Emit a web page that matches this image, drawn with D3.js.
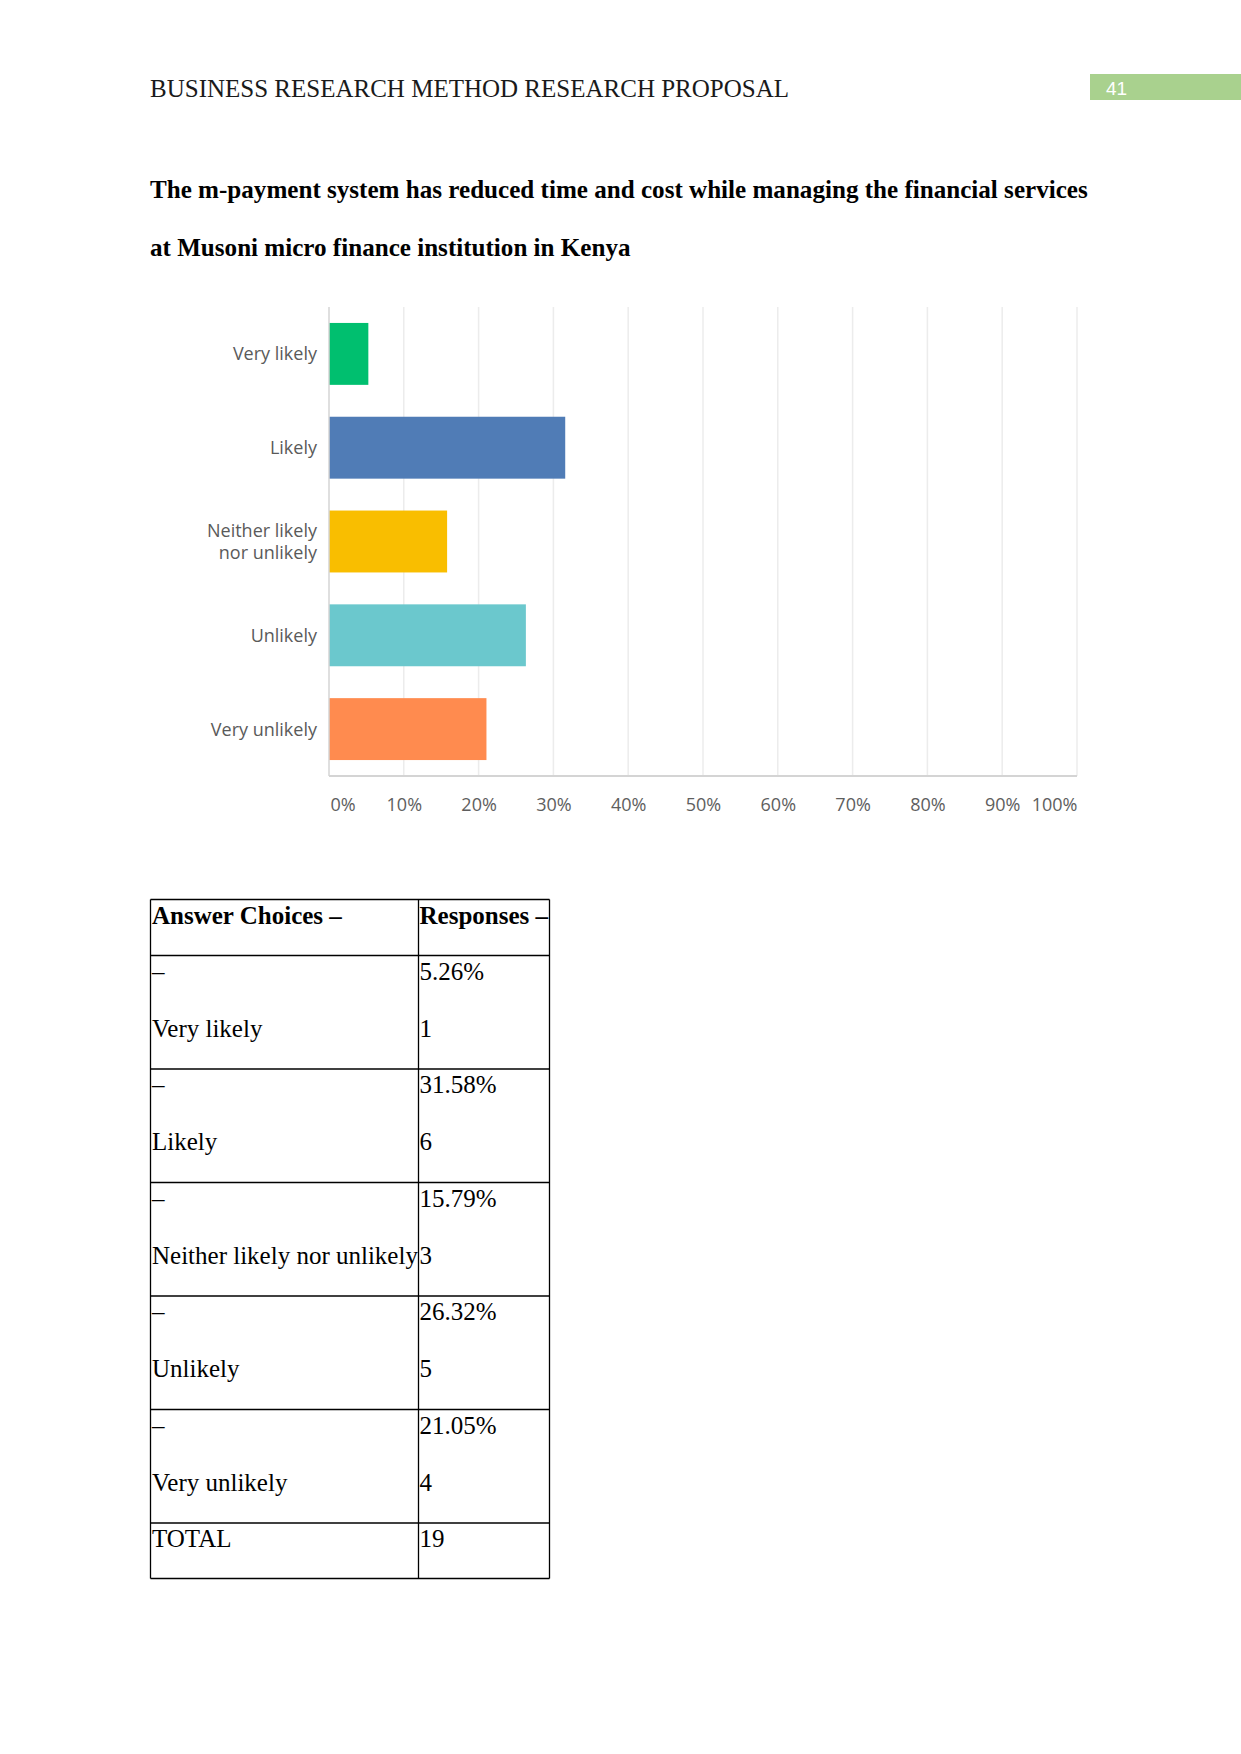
<!DOCTYPE html>
<html>
<head>
<meta charset="utf-8">
<script src="https://cdn.jsdelivr.net/npm/d3@7"></script>
<style>
  html, body { margin: 0; padding: 0; background: #ffffff; }
  svg { display: block; }
</style>
</head>
<body>
<script>
// ---------- data ----------
const headerText = "BUSINESS RESEARCH METHOD RESEARCH PROPOSAL";
const pageNumber = "41";
const titleLines = [
  "The m-payment system has reduced time and cost while managing the financial services",
  "at Musoni micro finance institution in Kenya"
];
const categories = ["Very likely", "Likely", "Neither likely nor unlikely", "Unlikely", "Very unlikely"];
const categoryLabelLines = [["Very likely"], ["Likely"], ["Neither likely", "nor unlikely"], ["Unlikely"], ["Very unlikely"]];
const percents = [5.26, 31.58, 15.79, 26.32, 21.05];
const counts = [1, 6, 3, 5, 4];
const totalCount = 19;
const barColors = ["#00bf6f", "#507cb6", "#f9be00", "#6bc8cd", "#ff8b4f"];
const tickValues = [0, 10, 20, 30, 40, 50, 60, 70, 80, 90, 100];
const tableHeaders = ["Answer Choices \u2013", "Responses \u2013"];
const totalLabel = "TOTAL";

// ---------- page ----------
const W = 1241, H = 1754;
const svg = d3.select("body").append("svg").attr("width", W).attr("height", H);
svg.append("rect").attr("width", W).attr("height", H).attr("fill", "#ffffff");

// header
svg.append("text")
  .attr("x", 150).attr("y", 97)
  .attr("font-family", "Liberation Serif, serif")
  .attr("font-size", 25)
  .attr("fill", "#1a1a1a")
  .text(headerText);
svg.append("rect").attr("x", 1090).attr("y", 74).attr("width", 151).attr("height", 26).attr("fill", "#a9d18e");
svg.append("text")
  .attr("x", 1106).attr("y", 95)
  .attr("font-family", "Liberation Sans, sans-serif")
  .attr("font-size", 19)
  .attr("fill", "#ffffff")
  .text(pageNumber);

// title
svg.selectAll("text.title").data(titleLines).join("text")
  .attr("class", "title")
  .attr("x", 150)
  .attr("y", (d, i) => 198 + i * 58)
  .attr("font-family", "Liberation Serif, serif")
  .attr("font-weight", "bold")
  .attr("font-size", 25.1)
  .attr("fill", "#000")
  .text(d => d);

// ---------- chart ----------
const x0 = 329, x1 = 1077, yTop = 307, yBot = 776;
const x = d3.scaleLinear().domain([0, 100]).range([x0, x1]);
const y = d3.scaleBand().domain(categories).range([yTop, yBot]).paddingInner(0.34).paddingOuter(0.17);

const chart = svg.append("g");

// gridlines
chart.append("g").selectAll("line").data(tickValues.slice(1)).join("line")
  .attr("x1", d => x(d)).attr("x2", d => x(d))
  .attr("y1", yTop).attr("y2", yBot)
  .attr("stroke", "#ececec").attr("stroke-width", 1.5);

// bars
chart.append("g").selectAll("rect").data(categories).join("rect")
  .attr("x", x(0))
  .attr("y", d => y(d))
  .attr("width", (d, i) => x(percents[i]) - x(0))
  .attr("height", y.bandwidth())
  .attr("fill", (d, i) => barColors[i]);

// axis lines
chart.append("line").attr("x1", x0).attr("x2", x0).attr("y1", yTop).attr("y2", yBot)
  .attr("stroke", "#d4d4d4").attr("stroke-width", 1.5);
chart.append("line").attr("x1", x0).attr("x2", x1).attr("y1", yBot).attr("y2", yBot)
  .attr("stroke", "#d4d4d4").attr("stroke-width", 2);

// x tick labels via d3 axis
const xAxis = d3.axisBottom(x).tickValues(tickValues).tickSize(0).tickPadding(0).tickFormat(d => d + "%");
const ax = chart.append("g").attr("transform", `translate(0, ${811})`).call(xAxis);
ax.select(".domain").remove();
ax.selectAll("text")
  .attr("dy", 0).attr("y", 0)
  .attr("font-family", "Open Sans, sans-serif")
  .attr("font-size", 18)
  .attr("fill", "#5e5e5e")
  .attr("text-anchor", (d, i) => i === 0 ? "start" : (i === tickValues.length - 1 ? "end" : "middle"))
  .attr("dx", (d, i) => i === 0 ? 1 : 0);

// category labels
const labelX = 317;
const catG = chart.append("g").selectAll("text").data(categories).join("text")
  .attr("x", labelX)
  .attr("text-anchor", "end")
  .attr("font-family", "Open Sans, sans-serif")
  .attr("font-size", 18)
  .attr("fill", "#5a5a5a");
catG.each(function (d, i) {
  const lines = categoryLabelLines[i];
  const cy = y(d) + y.bandwidth() / 2;
  const lh = 21.5;
  d3.select(this).selectAll("tspan").data(lines).join("tspan")
    .attr("x", labelX)
    .attr("y", (l, j) => cy + (j - (lines.length - 1) / 2) * lh)
    .attr("dy", "0.36em")
    .text(l => l);
});

// ---------- table ----------
const colX = [150.5, 418.5, 549.5];
const rowHeights = [56, 113.5, 113.5, 113.5, 113.5, 113.5, 55.5];
const rowTops = [899.5];
rowHeights.forEach((h, i) => rowTops.push(rowTops[i] + h));

const tbl = svg.append("g")
  .attr("font-family", "Liberation Serif, serif")
  .attr("font-size", 25)
  .attr("fill", "#000");

// borders
tbl.append("g").selectAll("line.h").data(rowTops).join("line")
  .attr("x1", colX[0]).attr("x2", colX[2])
  .attr("y1", d => d).attr("y2", d => d)
  .attr("stroke", "#000").attr("stroke-width", 1.3);
tbl.append("g").selectAll("line.v").data(colX).join("line")
  .attr("x1", d => d).attr("x2", d => d)
  .attr("y1", rowTops[0]).attr("y2", rowTops[rowTops.length - 1])
  .attr("stroke", "#000").attr("stroke-width", 1.3);

const tx0 = colX[0] + 1.5, tx1 = colX[1] + 1;
// header row
tbl.selectAll("text.hd").data(tableHeaders).join("text")
  .attr("class", "hd")
  .attr("x", (d, i) => i === 0 ? tx0 : tx1)
  .attr("y", rowTops[0] + 24)
  .attr("font-weight", "bold")
  .text(d => d);

// data rows
categories.forEach((c, i) => {
  const top = rowTops[i + 1];
  tbl.append("text").attr("x", tx0).attr("y", top + 24).text("\u2013");
  tbl.append("text").attr("x", tx0).attr("y", top + 81).text(c);
  tbl.append("text").attr("x", tx1).attr("y", top + 24).text(percents[i].toFixed(2) + "%");
  tbl.append("text").attr("x", tx1).attr("y", top + 81).text(counts[i]);
});
// total row
const tTop = rowTops[rowTops.length - 2];
tbl.append("text").attr("x", tx0).attr("y", tTop + 24).text(totalLabel);
tbl.append("text").attr("x", tx1).attr("y", tTop + 24).text(totalCount);
</script>
</body>
</html>
